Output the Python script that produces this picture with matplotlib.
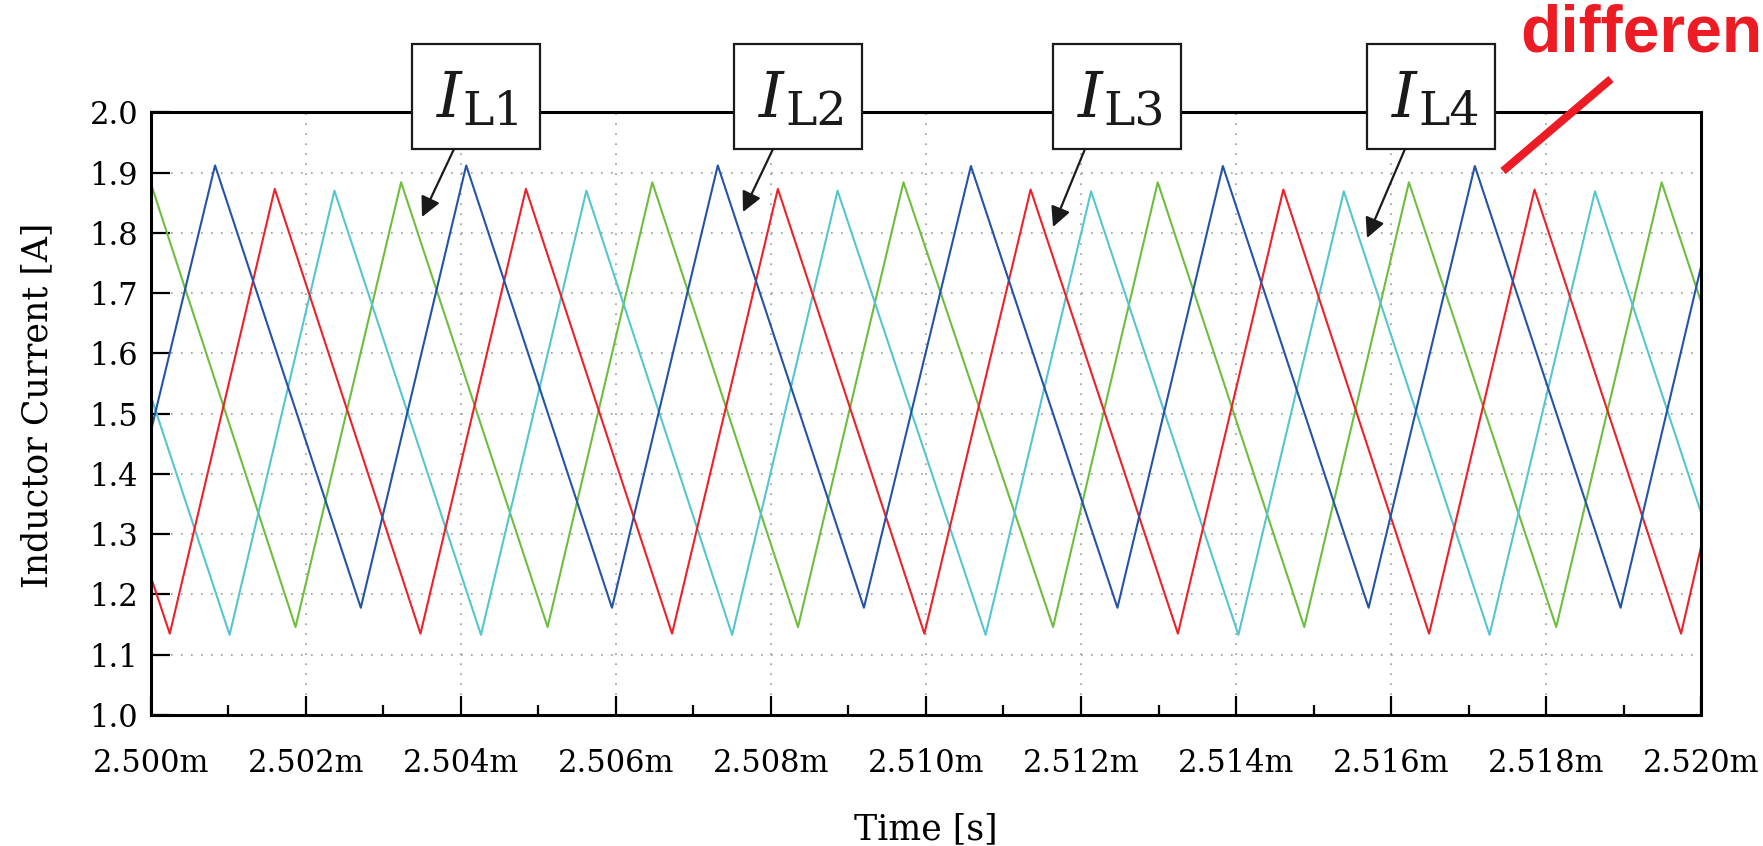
import matplotlib
matplotlib.use("Agg")
import matplotlib.pyplot as plt
from matplotlib.patches import Rectangle, FancyArrowPatch
from matplotlib.lines import Line2D

# ---------------- data (time in ms, current in A) ----------------
blue_t = [2.50000, 2.50083, 2.50271, 2.50407, 2.50595, 2.507315, 2.50920,
          2.51058, 2.51247, 2.51383, 2.51571, 2.51708, 2.51896, 2.52000]
blue_v = [1.47, 1.912, 1.178, 1.912, 1.178, 1.912, 1.178,
          1.911, 1.178, 1.911, 1.178, 1.911, 1.178, 1.745]

red_t = [2.50000, 2.500246, 2.50160, 2.50348, 2.50484, 2.506725, 2.50809,
         2.50998, 2.51135, 2.51325, 2.51461, 2.51649, 2.51785, 2.51974, 2.52000]
red_v = [1.23, 1.135, 1.873, 1.135, 1.873, 1.135, 1.873,
         1.135, 1.872, 1.135, 1.872, 1.135, 1.872, 1.135, 1.28]

cyan_t = [2.50000, 2.501018, 2.50237, 2.50426, 2.50562, 2.50750, 2.50886,
          2.51077, 2.51213, 2.51403, 2.51539, 2.51727, 2.51863, 2.52000]
cyan_v = [1.53, 1.133, 1.870, 1.133, 1.870, 1.133, 1.870,
          1.133, 1.869, 1.133, 1.869, 1.133, 1.869, 1.335]

green_t = [2.50000, 2.501868, 2.50323, 2.50512, 2.50647, 2.50835, 2.50971,
           2.51164, 2.51299, 2.51488, 2.51623, 2.51813, 2.51949, 2.52000]
green_v = [1.883, 1.146, 1.884, 1.146, 1.884, 1.146, 1.884,
           1.146, 1.884, 1.146, 1.884, 1.146, 1.884, 1.685]

x_ticks = [2.500, 2.502, 2.504, 2.506, 2.508, 2.510, 2.512, 2.514, 2.516, 2.518, 2.520]
x_tick_labels = ["2.500m", "2.502m", "2.504m", "2.506m", "2.508m", "2.510m",
                 "2.512m", "2.514m", "2.516m", "2.518m", "2.520m"]
x_minor = [2.501, 2.503, 2.505, 2.507, 2.509, 2.511, 2.513, 2.515, 2.517, 2.519]
y_ticks = [1.0, 1.1, 1.2, 1.3, 1.4, 1.5, 1.6, 1.7, 1.8, 1.9, 2.0]
y_tick_labels = ["1.0", "1.1", "1.2", "1.3", "1.4", "1.5", "1.6", "1.7", "1.8", "1.9", "2.0"]

labels = ["L1", "L2", "L3", "L4"]
note_text = "differen"

# ---------------- figure ----------------
W, H = 1763, 846
fig = plt.figure(figsize=(W / 100, H / 100), dpi=100)
serif = "DejaVu Serif"

ax = fig.add_axes([150.7 / W, 1 - 715 / H, 1550.5 / W, 602.6 / H])
c_blue, c_red, c_cyan, c_green = "#2353a6", "#ee2028", "#55c5cf", "#6dbd3e"
lw = 1.5
ax.plot(green_t, green_v, color=c_green, lw=lw)
ax.plot(cyan_t, cyan_v, color=c_cyan, lw=lw)
ax.plot(red_t, red_v, color=c_red, lw=lw)
ax.plot(blue_t, blue_v, color=c_blue, lw=lw)

ax.set_xlim(2.500, 2.520)
ax.set_ylim(1.0, 2.0)
ax.set_xticks(x_ticks)
ax.set_xticklabels(x_tick_labels, fontfamily=serif, fontsize=22)
ax.set_xticks(x_minor, minor=True)
ax.set_yticks(y_ticks)
ax.set_yticklabels(y_tick_labels, fontfamily=serif, fontsize=22)
ax.tick_params(which="major", direction="in", length=14, width=1.6, color="black")
ax.tick_params(axis="x", which="major", pad=24)
ax.tick_params(axis="y", which="major", pad=9)
ax.tick_params(which="minor", direction="in", length=7, width=1.6)
for s in ax.spines.values():
    s.set_linewidth(2.2)
ax.grid(True, which="major", color="#9a9a9a", linestyle=(0, (1, 5)), linewidth=1.2)

ax.set_xlabel("Time [s]", fontfamily=serif, fontsize=25)
ax.xaxis.set_label_coords(0.5, -0.189)
ax.xaxis.label.set_va("center")
ax.set_ylabel("Inductor Current [A]", fontfamily=serif, fontsize=25)
ax.yaxis.set_label_coords(-0.073, 0.514)
ax.yaxis.label.set_va("center")

# ---------------- overlay in pixel coordinates ----------------
ov = fig.add_axes([0, 0, 1, 1], zorder=10)
ov.set_xlim(0, W)
ov.set_ylim(H, 0)
ov.axis("off")
ov.patch.set_alpha(0)

box_left = [411.7, 734.0, 1052.5, 1367.0]
box_top, box_bot, box_w = 44.0, 149.0, 128.0
arrow_start = [(454, 149), (773, 149), (1085, 149), (1405, 149)]
arrow_tip = [(422, 217), (743, 212), (1053, 227), (1367, 238)]

for bl, lab, st, tp in zip(box_left, labels, arrow_start, arrow_tip):
    ov.add_patch(Rectangle((bl, box_top), box_w, box_bot - box_top,
                           facecolor="white", edgecolor="#1a1a1a", lw=1.6, zorder=2))
    ov.text(bl + 50, 116.7, "I", fontfamily=serif, style="italic", fontsize=45,
            ha="right", va="baseline", color="#1a1a1a", zorder=3)
    ov.text(bl + 51, 125, lab, fontfamily=serif, fontsize=34,
            ha="left", va="baseline", color="#1a1a1a", zorder=3)
    ov.add_patch(FancyArrowPatch(st, tp, arrowstyle="-|>", mutation_scale=30,
                                 color="#1a1a1a", lw=1.6, shrinkA=0, shrinkB=0, zorder=3))

# red annotation
ov.add_line(Line2D([1503, 1611], [171, 79], color="#ed1c24", lw=5.8,
                   solid_capstyle="butt", zorder=4))
ov.text(1520, 52, note_text, fontfamily="Liberation Sans", fontweight="bold",
        fontsize=47.5, color="#ed1c24", ha="left", va="baseline", zorder=4)

fig.savefig("out.png", dpi=100)
